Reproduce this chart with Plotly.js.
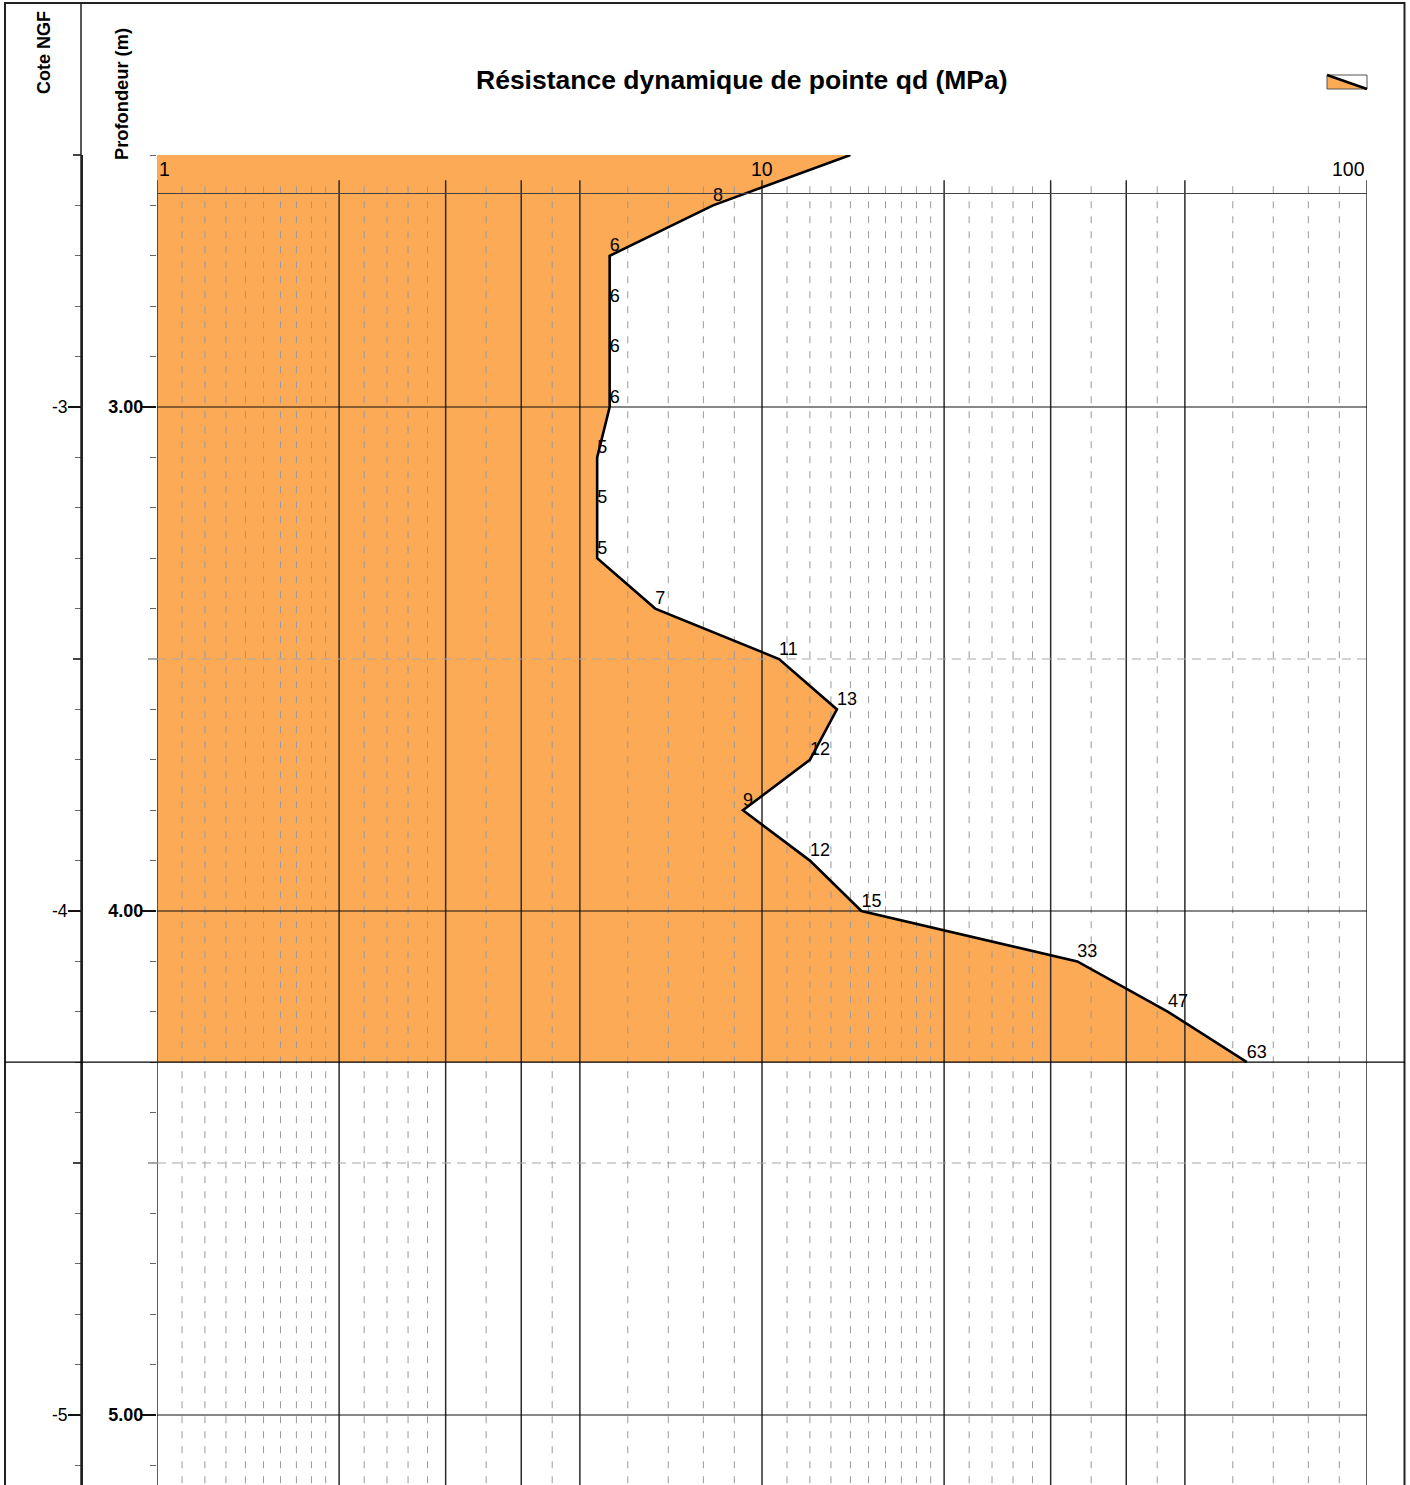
<!DOCTYPE html>
<html>
<head>
<meta charset="utf-8">
<script src="https://cdn.plot.ly/plotly-3.0.1.min.js"></script>
<style>html,body{margin:0;padding:0;background:#fff;}#chart{width:1410px;height:1485px;}</style>
</head>
<body>
<div id="chart"></div>
<script>
// ---------------- data ----------------
const depths = [2.5, 2.6, 2.7, 2.8, 2.9, 3.0, 3.1, 3.2, 3.3, 3.4, 3.5, 3.6, 3.7, 3.8, 3.9, 4.0, 4.1, 4.2, 4.3];
const qd = [14.0, 8.3, 5.6, 5.6, 5.6, 5.6, 5.34, 5.34, 5.34, 6.66, 10.67, 13.3, 12.0, 9.3, 12.0, 14.6, 33.2, 46.9, 63.3];
const qdLabels = ['14', '8', '6', '6', '6', '6', '5', '5', '5', '7', '11', '13', '12', '9', '12', '15', '33', '47', '63'];
const groundLevelNGF = 0;

const xTickVals = [1, 10, 100];
const xTickText = ['1', '10', '100'];
const xMajorGrid = [1, 2, 3, 4, 5, 10, 20, 30, 40, 50, 100];
const xMinorGrid = [1.1, 1.2, 1.3, 1.4, 1.5, 1.6, 1.7, 1.8, 1.9, 2.2, 2.4, 2.6, 2.8, 3.5, 4.5, 6, 7, 8, 9,
                    11, 12, 13, 14, 15, 16, 17, 18, 19, 22, 24, 26, 28, 35, 45, 60, 70, 80, 90];
const depthTickVals = [3, 4, 5];
const depthTickText = ['3.00', '4.00', '5.00'];
const depthMidTicks = [3.5, 4.5];
const coteTickVals = [-3, -4, -5];
const coteTickText = ['-3', '-4', '-5'];
const coteMidTicks = [-2.5, -3.5, -4.5];
const yMajorGrid = [3, 4, 5];
const yMinorGrid = [3.5, 4.5];

// ---------------- layout helpers ----------------
const W = 1410, H = 1485;
const FONT = 'Liberation Sans, Arial, sans-serif';
const px = v => v / W;
const py = v => 1 - v / H;
const depthTop = 2.5;
const depthBottom = 3 + (H - 407) / 504;
const majorGridTop = 2.55;
const minorGridTop = 2.562;
const ORANGE = '#FCAA56';

function vLines(vals, y0, y1) {
  const x = [], y = [];
  vals.forEach(v => { x.push(v, v, null); y.push(y0, y1, null); });
  return {x, y};
}
function hLines(vals, x0, x1) {
  const x = [], y = [];
  vals.forEach(v => { x.push(x0, x1, null); y.push(v, v, null); });
  return {x, y};
}

const last = depths.length - 1;
const traces = [];

// fill area
traces.push({
  x: [1].concat(qd, [1]),
  y: [depths[0]].concat(depths, [depths[last]]),
  mode: 'lines', fill: 'toself', fillcolor: ORANGE,
  line: {width: 0}, hoverinfo: 'skip', showlegend: false
});
// minor vertical grid
const vmin = vLines(xMinorGrid, minorGridTop, depthBottom + 0.1);
traces.push({x: vmin.x, y: vmin.y, mode: 'lines', line: {color: '#9a9a9a', width: 1, dash: '7px,8px'}, hoverinfo: 'skip', showlegend: false});
// major vertical grid
const vmaj = vLines(xMajorGrid, majorGridTop, depthBottom + 0.1);
traces.push({x: vmaj.x, y: vmaj.y, mode: 'lines', line: {color: '#2b2b2b', width: 1.5}, hoverinfo: 'skip', showlegend: false});
// horizontal dashed grid
const hmin = hLines(yMinorGrid, xTickVals[0], xTickVals[xTickVals.length - 1]);
traces.push({x: hmin.x, y: hmin.y, mode: 'lines', line: {color: '#a8a8a8', width: 1.2, dash: '9px,6px'}, hoverinfo: 'skip', showlegend: false});
// horizontal solid grid
const hmaj = hLines(yMajorGrid, xTickVals[0], xTickVals[xTickVals.length - 1]);
traces.push({x: hmaj.x, y: hmaj.y, mode: 'lines', line: {color: '#111', width: 1.2}, hoverinfo: 'skip', showlegend: false});
// curve + labels
traces.push({
  x: qd, y: depths, mode: 'lines+text', text: qdLabels,
  textposition: 'top right', textfont: {family: FONT, size: 18, color: '#000'},
  line: {color: '#000', width: 2.6}, cliponaxis: true, hoverinfo: 'skip', showlegend: false
});
// axis carriers
traces.push({x: [], y: [], xaxis: 'x', yaxis: 'y2', hoverinfo: 'skip', showlegend: false});
traces.push({x: [], y: [], xaxis: 'x', yaxis: 'y3', hoverinfo: 'skip', showlegend: false});
traces.push({x: [], y: [], xaxis: 'x', yaxis: 'y4', hoverinfo: 'skip', showlegend: false});

const yDomain = [0, py(155)];
const annotations = [];
xTickVals.forEach((v, i) => {
  annotations.push({
    xref: 'x', yref: 'paper', x: Math.log10(v), y: py(169),
    xanchor: i === 0 ? 'left' : (i === xTickVals.length - 1 ? 'right' : 'center'),
    yanchor: 'middle', text: xTickText[i], showarrow: false,
    font: {family: FONT, size: 19.5, color: '#000'}
  });
});
annotations.push({
  xref: 'paper', yref: 'paper', x: px(742), y: py(80), xanchor: 'center', yanchor: 'middle',
  text: 'Résistance dynamique de pointe qd (MPa)', showarrow: false,
  font: {family: FONT, size: 26.5, color: '#000', weight: 'bold'}
});
annotations.push({
  xref: 'paper', yref: 'paper', x: px(44), y: py(53), xanchor: 'center', yanchor: 'middle',
  text: 'Cote NGF', textangle: -90, showarrow: false,
  font: {family: FONT, size: 18, color: '#000', weight: 'bold'}
});
annotations.push({
  xref: 'paper', yref: 'paper', x: px(121), y: py(94), xanchor: 'center', yanchor: 'middle',
  text: 'Profondeur (m)', textangle: -90, showarrow: false,
  font: {family: FONT, size: 18.3, color: '#000', weight: 'bold'}
});

const shapes = [
  // frame
  {type: 'rect', xref: 'paper', yref: 'paper', x0: px(5), x1: px(1404.5), y0: py(3), y1: -0.02,
   line: {color: '#222', width: 2}, fillcolor: 'rgba(0,0,0,0)', layer: 'above'},
  // column separator (cote axis line full height)
  {type: 'line', xref: 'paper', yref: 'paper', x0: px(81), x1: px(81), y0: py(3), y1: -0.02,
   line: {color: '#222', width: 1.5}, layer: 'above'},
  // end of test line
  {type: 'line', xref: 'paper', yref: 'y', x0: px(5), x1: px(1405), y0: depths[last], y1: depths[last],
   line: {color: '#000', width: 1.2}, layer: 'above'},
  // legend icon
  {type: 'path', xref: 'paper', yref: 'paper',
   path: `M ${px(1327)} ${py(75)} L ${px(1327)} ${py(89)} L ${px(1367)} ${py(89)} Z`,
   fillcolor: ORANGE, line: {width: 0}, layer: 'above'},
  {type: 'rect', xref: 'paper', yref: 'paper', x0: px(1327), x1: px(1367), y0: py(75), y1: py(89),
   line: {color: '#555', width: 1}, fillcolor: 'rgba(0,0,0,0)', layer: 'above'},
  {type: 'line', xref: 'paper', yref: 'paper', x0: px(1327), x1: px(1367), y0: py(75), y1: py(89),
   line: {color: '#000', width: 2.5}, layer: 'above'}
];

const layout = {
  width: W, height: H,
  margin: {l: 0, r: 0, t: 0, b: 0, pad: 0},
  paper_bgcolor: '#fff', plot_bgcolor: '#fff',
  showlegend: false,
  font: {family: FONT, color: '#000'},
  xaxis: {
    type: 'log', range: [0, 2], domain: [px(157), px(1367)],
    anchor: 'free', position: py(193), side: 'top',
    showline: true, linecolor: '#444', linewidth: 1, layer: 'above traces',
    showgrid: false, zeroline: false, ticks: '', showticklabels: false, fixedrange: true
  },
  yaxis: {
    range: [depthBottom, depthTop], domain: yDomain, anchor: 'x', side: 'left',
    tickvals: depthTickVals, ticktext: depthTickText,
    ticks: 'outside', ticklen: 14, tickwidth: 1.2, tickcolor: '#111',
    tickfont: {family: FONT, size: 18, color: '#000', weight: 'bold'},
    ticklabelstandoff: -5,
    minor: {dtick: 0.1, tick0: 0, ticks: 'outside', ticklen: 6, tickcolor: '#666', tickwidth: 1, showgrid: false},
    showgrid: false, zeroline: false, showline: false, fixedrange: true
  },
  yaxis2: {
    range: [-depthBottom + groundLevelNGF, -depthTop + groundLevelNGF], overlaying: 'y',
    anchor: 'free', position: px(81), side: 'left',
    tickvals: coteTickVals, ticktext: coteTickText,
    ticks: 'outside', ticklen: 13, tickwidth: 1.2, tickcolor: '#111',
    tickfont: {family: FONT, size: 17.5, color: '#000'},
    ticklabelstandoff: -3,
    minor: {dtick: 0.1, tick0: 0, ticks: 'outside', ticklen: 6, tickcolor: '#666', tickwidth: 1, showgrid: false},
    showline: true, linecolor: '#222', linewidth: 1.5,
    showgrid: false, zeroline: false, fixedrange: true
  },
  yaxis3: {
    range: [depthBottom, depthTop], overlaying: 'y', anchor: 'free', position: px(157), side: 'left',
    tickvals: depthMidTicks, ticks: 'outside', ticklen: 9, tickwidth: 1.2, tickcolor: '#a8a8a8',
    showticklabels: false, showgrid: false, zeroline: false, showline: false, fixedrange: true
  },
  yaxis4: {
    range: [-depthBottom + groundLevelNGF, -depthTop + groundLevelNGF], overlaying: 'y',
    anchor: 'free', position: px(81), side: 'left',
    tickvals: coteMidTicks, ticks: 'outside', ticklen: 8, tickwidth: 1.2, tickcolor: '#444',
    showticklabels: false, showgrid: false, zeroline: false, showline: false, fixedrange: true
  },
  annotations: annotations,
  shapes: shapes
};

Plotly.newPlot('chart', traces, layout, {staticPlot: true, displayModeBar: false});
</script>
</body>
</html>
